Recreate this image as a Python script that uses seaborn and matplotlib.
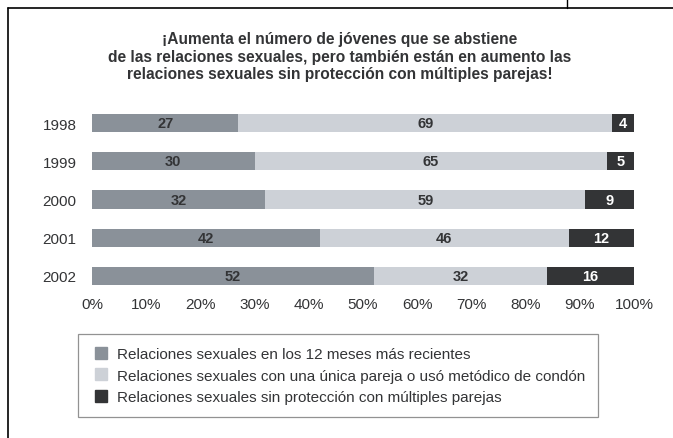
import numpy as np
import pandas as pd
import matplotlib.pyplot as plt
import seaborn as sns
from matplotlib.lines import Line2D

# data
years = ["1998", "1999", "2000", "2001", "2002"]
recientes = [27, 30, 32, 42, 52]
unica_pareja = [69, 65, 59, 46, 32]
multiples = [4, 5, 9, 12, 16]

series_names = [
    "Relaciones sexuales en los 12 meses más recientes",
    "Relaciones sexuales con una única pareja o usó metódico de condón",
    "Relaciones sexuales sin protección con múltiples parejas",
]
colors = ["#8a9199", "#cdd1d7", "#333436"]
text_colors = ["#333436", "#333436", "white"]

df = pd.DataFrame({"year": years, "a": recientes, "b": unica_pareja, "c": multiples})
df["ab"] = df["a"] + df["b"]
df["abc"] = df["ab"] + df["c"]

sns.set_style("white")
plt.rcParams["font.family"] = ["Liberation Sans", "DejaVu Sans"]

fig = plt.figure(figsize=(6.73, 4.39), dpi=100)
ax = fig.add_axes([0.1367, 0.3255, 0.8053, 0.4355])

# stacked bars drawn as overlapping cumulative totals
for col, c in zip(["abc", "ab", "a"], colors[::-1]):
    sns.barplot(data=df, x=col, y="year", order=years, color=c,
                width=0.48, orient="h", ax=ax, saturation=1, edgecolor="none")

# segment labels
starts = [np.zeros(len(years)), df["a"].values, df["ab"].values]
for vals, st, tc in zip([recientes, unica_pareja, multiples], starts, text_colors):
    for i, v in enumerate(vals):
        ax.text(st[i] + v / 2, i, str(v), ha="center", va="center",
                color=tc, fontsize=10.5, fontweight="bold")

ax.set_xlim(0, 100)
ax.set_ylim(4.5, -0.5)
ax.set_xticks(range(0, 101, 10))
ax.set_xticklabels([f"{t}%" for t in range(0, 101, 10)])
ax.set_xlabel("")
ax.set_ylabel("")
ax.tick_params(axis="both", length=0, labelsize=11, labelcolor="#333436")
ax.tick_params(axis="x", pad=1.5)
ax.tick_params(axis="y", pad=11)
for s in ax.spines.values():
    s.set_visible(False)

fig.text(0.505, 1 - 32 / 439,
         "¡Aumenta el número de jóvenes que se abstiene\n"
         "de las relaciones sexuales, pero también están en aumento las\n"
         "relaciones sexuales sin protección con múltiples parejas!",
         ha="center", va="top", fontsize=11.2, fontweight="bold",
         color="#333436", linespacing=1.22)

handles = [Line2D([], [], marker="s", linestyle="none", markersize=9,
                  markerfacecolor=c, markeredgecolor=c) for c in colors]
leg = fig.legend(handles, series_names, loc="upper left",
                 bbox_to_anchor=(78 / 673, 1 - 335 / 439), frameon=True,
                 fancybox=False, fontsize=11, handlelength=1.3,
                 handletextpad=0.4, labelspacing=0.5, borderpad=0.85,
                 borderaxespad=0, labelcolor="#333436")
leg.get_frame().set_edgecolor("#777777")
leg.get_frame().set_linewidth(0.9)

# page frame lines
fig.add_artist(Line2D([0.0119, 1.0], [0.9795, 0.9795], color="black", lw=1.2))
fig.add_artist(Line2D([0.8425, 0.8425], [0.9795, 1.0], color="black", lw=1.0))
fig.add_artist(Line2D([0.0119, 0.0119], [0.0, 0.9795], color="black", lw=1.2))

fig.savefig("out.png", dpi=100)
